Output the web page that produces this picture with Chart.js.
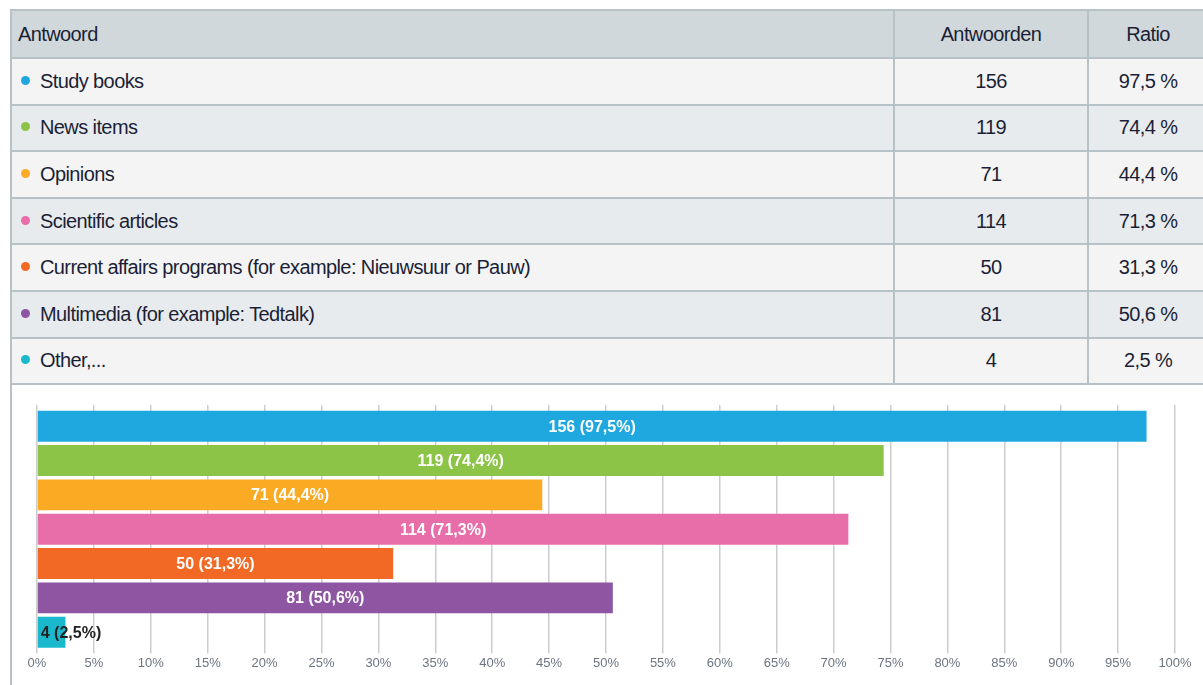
<!DOCTYPE html>
<html>
<head>
<meta charset="utf-8">
<script src="https://cdn.jsdelivr.net/npm/chart.js@4.4.1/dist/chart.umd.min.js"></script>
<style>
  html, body { margin: 0; padding: 0; background: #fff; width: 1203px; height: 685px; overflow: hidden; }
  #wrap { position: absolute; left: 10px; top: 9px; width: 1200px; height: 690px; border-left: 2px solid #b7c2c7; }
  table { position: absolute; left: 10px; top: 9px; border-collapse: collapse; width: 1197px; table-layout: fixed;
          font-family: "Liberation Sans", Arial, sans-serif; font-size: 20px; letter-spacing: -0.6px; color: #1b1f36; }
  td, th { border: 2px solid #b7c2c7; padding: 0; font-weight: normal; vertical-align: middle; }
  th { background: #d1d8dc; height: 46px; }
  tr.r td { height: 44.6px; }
  tr.odd td { background: #f4f4f4; }
  tr.even td { background: #e8ebed; }
  .c1 { text-align: left; padding-left: 6px; }
  .c2, .c3 { text-align: center; }
  .dot { display: inline-block; width: 9px; height: 9px; border-radius: 50%; margin-left: 3px; margin-right: 10px; vertical-align: 3px; }
  #cv { position: absolute; left: 12px; top: 386px; }
</style>
</head>
<body>
<div id="wrap"></div>
<table id="tbl">
  <colgroup><col style="width:883px"><col style="width:194px"><col style="width:120px"></colgroup>
  <thead><tr><th class="c1">Antwoord</th><th class="c2">Antwoorden</th><th class="c3">Ratio</th></tr></thead>
  <tbody id="tb"></tbody>
</table>
<canvas id="cv" width="1191" height="299" style="width:1191px;height:299px"></canvas>
<script>
const categories = [
  "Study books",
  "News items",
  "Opinions",
  "Scientific articles",
  "Current affairs programs (for example: Nieuwsuur or Pauw)",
  "Multimedia (for example: Tedtalk)",
  "Other,..."
];
const counts = [156, 119, 71, 114, 50, 81, 4];
const ratios = [97.5, 74.4, 44.4, 71.3, 31.3, 50.6, 2.5];
const colors = ["#1fa8e0", "#8bc446", "#fbaa24", "#e86eaa", "#f26825", "#8e55a3", "#19b8cc"];
const xTickLabels = ["0%","5%","10%","15%","20%","25%","30%","35%","40%","45%","50%","55%","60%","65%","70%","75%","80%","85%","90%","95%","100%"];

function fmt(v) { return String(v).replace('.', ','); }

// table
const tb = document.getElementById('tb');
categories.forEach((c, i) => {
  const tr = document.createElement('tr');
  tr.className = 'r ' + (i % 2 === 0 ? 'odd' : 'even');
  tr.innerHTML = '<td class="c1"><span class="dot" style="background:' + colors[i] + '"></span>' + c + '</td>' +
                 '<td class="c2">' + counts[i] + '</td>' +
                 '<td class="c3">' + fmt(ratios[i]) + ' %</td>';
  tb.appendChild(tr);
});

// chart
const labelPlugin = {
  id: 'barLabels',
  afterDatasetsDraw(chart) {
    const ctx = chart.ctx;
    const meta = chart.getDatasetMeta(0);
    ctx.save();
    ctx.font = 'bold 16px "Liberation Sans", Arial, sans-serif';
    ctx.textBaseline = 'middle';
    meta.data.forEach((bar, i) => {
      const txt = counts[i] + ' (' + fmt(ratios[i]) + '%)';
      const w = ctx.measureText(txt).width;
      const left = Math.min(bar.base, bar.x), right = Math.max(bar.base, bar.x);
      if (w + 8 < right - left) {
        ctx.fillStyle = '#ffffff';
        ctx.textAlign = 'center';
        ctx.fillText(txt, (left + right) / 2, bar.y + 1);
      } else {
        ctx.fillStyle = '#222222';
        ctx.textAlign = 'left';
        ctx.fillText(txt, left + 3, bar.y + 1);
      }
    });
    ctx.restore();
  }
};

new Chart(document.getElementById('cv'), {
  type: 'bar',
  data: {
    labels: categories,
    datasets: [{
      data: ratios,
      backgroundColor: colors,
      borderWidth: 0,
      categoryPercentage: 1.0,
      barPercentage: 0.9
    }]
  },
  options: {
    indexAxis: 'y',
    responsive: false,
    animation: false,
    layout: { padding: { left: 25, right: 28, top: 19, bottom: 12 } },
    plugins: { legend: { display: false }, tooltip: { enabled: false } },
    scales: {
      y: { display: false },
      x: {
        position: 'bottom',
        min: 0, max: 100,
        border: { display: false },
        grid: { color: '#cdcdcd', lineWidth: 1.5, tickLength: 4 },
        ticks: {
          stepSize: 5, autoSkip: false, maxRotation: 0, padding: 2,
          color: '#6c7580',
          font: { family: '"Liberation Sans", Arial, sans-serif', size: 13 },
          callback: (v, i) => xTickLabels[i]
        }
      },
      x2: {
        position: 'top',
        axis: 'x',
        min: 0, max: 100,
        border: { display: false },
        grid: { color: '#cdcdcd', lineWidth: 1.5, tickLength: 4, drawOnChartArea: false },
        ticks: { display: false, stepSize: 5 }
      }
    }
  },
  plugins: [labelPlugin]
});
</script>
</body>
</html>
